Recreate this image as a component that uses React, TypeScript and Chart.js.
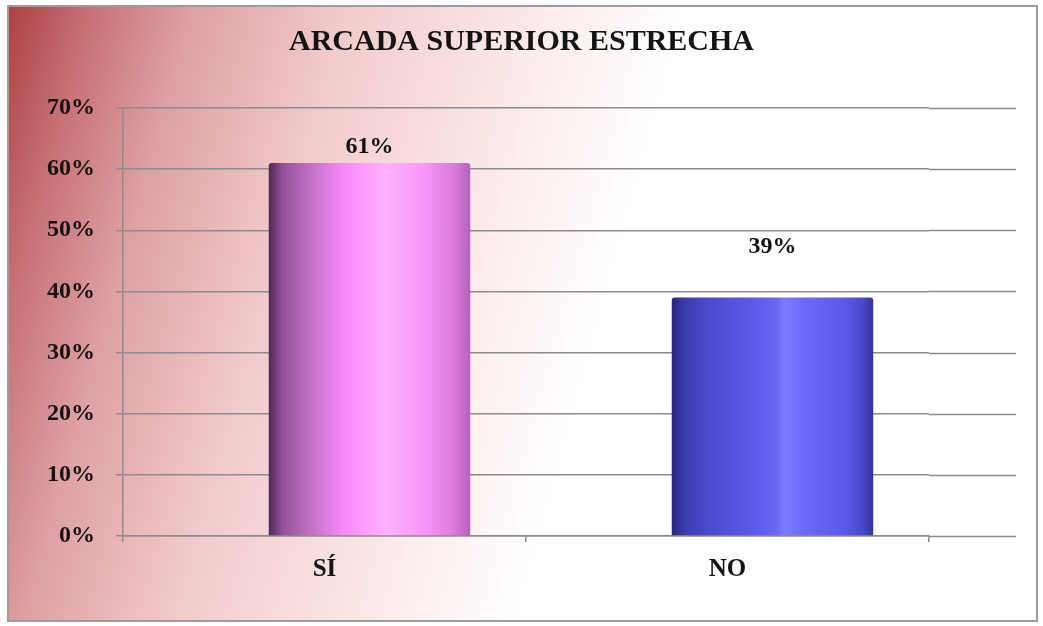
import React, { useEffect, useRef } from 'react';
import { Chart, registerables } from 'chart.js';

Chart.register(...registerables);

// ---- data ----
const categories = ['SÍ', 'NO'];
const percentages = [61, 39];
const yTicks = [0, 10, 20, 30, 40, 50, 60, 70];
const chartTitle = 'ARCADA SUPERIOR ESTRECHA';

// ---- styles ----
const SERIF = "'Liberation Serif', 'Times New Roman', serif";
const TEXT = '#141414';
const GRID = '#8c8c8c';
const DEPTH_X = 45; // 3D depth shift of the cylinders
const WALL_EXT = 87; // back-wall gridline extension
const LABEL_LIFT = [16, 51];

const pinkStops: [number, string][] = [
  [0, '#4e2856'],
  [0.07, '#94529a'],
  [0.22, '#c474c6'],
  [0.38, '#fa8afa'],
  [0.58, '#ffb2ff'],
  [0.78, '#f794f7'],
  [0.92, '#da7ada'],
  [1, '#b462bc'],
];
const blueStops: [number, string][] = [
  [0, '#26267a'],
  [0.06, '#3a3aa8'],
  [0.18, '#4a4acf'],
  [0.4, '#5a5ae8'],
  [0.52, '#6868f6'],
  [0.56, '#7c7cff'],
  [0.66, '#6a6afa'],
  [0.86, '#5a5aea'],
  [0.95, '#4848c8'],
  [1, '#3434a0'],
];

const backgroundPlugin = {
  id: 'frameBg',
  beforeDraw(chart: any) {
    const { ctx, width, height } = chart;
    ctx.save();
    ctx.fillStyle = '#ffffff';
    ctx.fillRect(0, 0, width, height);
    const g = ctx.createLinearGradient(8, 6, 640, 180);
    g.addColorStop(0, '#ac4044');
    g.addColorStop(0.12, '#c67074');
    g.addColorStop(0.27, '#dea0a3');
    g.addColorStop(0.5, '#f2cbcc');
    g.addColorStop(0.75, '#fbe6e6');
    g.addColorStop(1, '#ffffff');
    ctx.fillStyle = g;
    ctx.fillRect(8, 6, 1029, 615);
    ctx.strokeStyle = '#9c9c9c';
    ctx.lineWidth = 2;
    ctx.strokeRect(8, 6, 1029, 615);
    ctx.restore();
  },
};

const wallPlugin = {
  id: 'wallExt',
  beforeDatasetsDraw(chart: any) {
    const { ctx, chartArea } = chart;
    const ys = chart.scales.y;
    ctx.save();
    ctx.strokeStyle = GRID;
    ctx.lineWidth = 1.5;
    yTicks.forEach((v) => {
      const py = Math.round(ys.getPixelForValue(v)) + 0.5;
      ctx.beginPath();
      ctx.moveTo(chartArea.right, py);
      ctx.lineTo(chartArea.right + WALL_EXT, py);
      ctx.stroke();
    });
    ctx.restore();
  },
};

const depthPlugin = {
  id: 'depthShift',
  beforeDatasetsDraw(chart: any) {
    chart.ctx.save();
    chart.ctx.translate(DEPTH_X, 0);
  },
  afterDatasetsDraw(chart: any) {
    chart.ctx.restore();
  },
};

const labelPlugin = {
  id: 'valueLabels',
  afterDatasetsDraw(chart: any) {
    const { ctx } = chart;
    const meta = chart.getDatasetMeta(0);
    ctx.save();
    ctx.fillStyle = TEXT;
    ctx.font = `bold 24px ${SERIF}`;
    ctx.textAlign = 'center';
    ctx.textBaseline = 'middle';
    meta.data.forEach((bar: any, i: number) => {
      ctx.fillText(`${percentages[i]}%`, bar.x + DEPTH_X, bar.y - LABEL_LIFT[i]);
    });
    ctx.restore();
  },
};

export default function App() {
  const ref = useRef<HTMLCanvasElement | null>(null);

  useEffect(() => {
    if (!ref.current) return;
    const chart = new Chart(ref.current, {
      type: 'bar',
      data: {
        labels: categories,
        datasets: [
          {
            data: percentages,
            categoryPercentage: 0.5,
            barPercentage: 1.0,
            borderWidth: 0,
            borderRadius: { topLeft: 3, topRight: 3, bottomLeft: 0, bottomRight: 0 },
            borderSkipped: false,
            backgroundColor: (c: any) => {
              const stops = c.dataIndex === 0 ? pinkStops : blueStops;
              const chartRef = c.chart;
              const xs = chartRef.scales && chartRef.scales.x;
              if (c.type !== 'data' || !xs || !chartRef.chartArea) return stops[3][1];
              const center = xs.getPixelForValue(c.dataIndex);
              const w = (xs.width / categories.length) * 0.5;
              const g = chartRef.ctx.createLinearGradient(center - w / 2, 0, center + w / 2, 0);
              stops.forEach(([o, col]) => g.addColorStop(o, col));
              return g;
            },
          },
        ],
      },
      options: {
        responsive: false,
        animation: false,
        layout: { padding: { top: 0, left: 0, right: 0, bottom: 0 } },
        plugins: {
          legend: { display: false },
          tooltip: { enabled: false },
          title: {
            display: true,
            text: chartTitle,
            color: TEXT,
            font: { family: SERIF, size: 30, weight: 'bold' },
            padding: { top: 24, bottom: 48 },
          },
        },
        scales: {
          x: {
            ticks: {
              color: TEXT,
              font: { family: SERIF, size: 25, weight: 'bold' },
              padding: 13,
            },
            grid: {
              display: true,
              drawOnChartArea: false,
              drawTicks: true,
              tickLength: 6,
              color: GRID,
              lineWidth: 1.5,
              offset: true,
            },
            border: { color: GRID, width: 1.5 },
            afterFit: (s: any) => {
              s.height = 90;
            },
          },
          y: {
            min: 0,
            max: 70,
            afterBuildTicks: (s: any) => {
              s.ticks = yTicks.map((v) => ({ value: v }));
            },
            ticks: {
              color: TEXT,
              font: { family: SERIF, size: 24, weight: 'bold' },
              padding: 21,
              callback: (v: any) => `${v}%`,
            },
            grid: { color: GRID, lineWidth: 1.5, tickLength: 7, drawTicks: true },
            border: { color: GRID, width: 1.5 },
            afterFit: (s: any) => {
              s.width = 123;
            },
          },
          yRight: {
            type: 'linear',
            position: 'right',
            display: true,
            grid: { display: false },
            ticks: { display: false },
            border: { display: false },
            afterFit: (s: any) => {
              s.width = 114;
            },
          },
        },
      } as any,
      plugins: [backgroundPlugin, wallPlugin, depthPlugin, labelPlugin],
    });
    return () => chart.destroy();
  }, []);

  return (
    <div style={{ position: 'absolute', left: 0, top: 0, width: 1043, height: 626 }}>
      <canvas ref={ref} width={1043} height={626} style={{ display: 'block' }} />
    </div>
  );
}
